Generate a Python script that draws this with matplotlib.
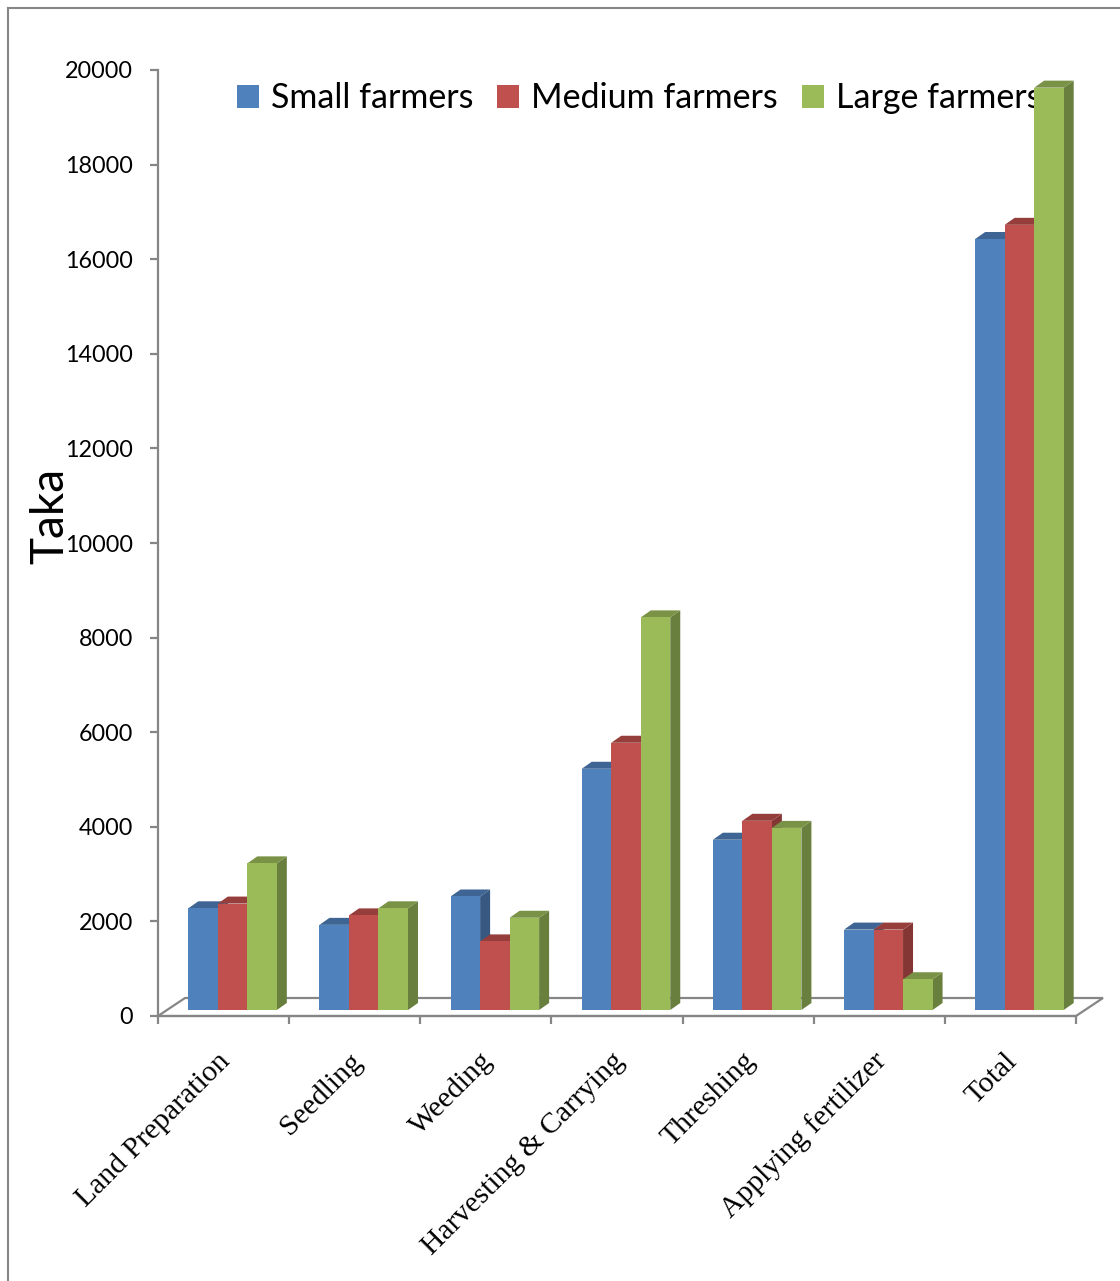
import numpy as np
import matplotlib.pyplot as plt
from matplotlib.patches import Patch, Polygon
from matplotlib.lines import Line2D
from matplotlib.colors import to_rgb

plt.rcParams["font.family"] = ["Lato", "DejaVu Sans"]

categories = [
    "Land Preparation",
    "Seedling",
    "Weeding",
    "Harvesting & Carrying",
    "Threshing",
    "Applying fertilizer",
    "Total",
]
series_names = ["Small farmers", "Medium farmers", "Large farmers"]
small = [2150, 1800, 2400, 5100, 3600, 1700, 16300]
medium = [2250, 2000, 1450, 5650, 4000, 1700, 16600]
large = [3100, 2150, 1950, 8300, 3850, 650, 19500]
colors = ["#4F81BD", "#C0504D", "#9BBB59"]
y_ticks = list(range(0, 20001, 2000))

AXIS_GRAY = "#868686"


def shade(color, k):
    return tuple(c * k for c in to_rgb(color))


fig = plt.figure(figsize=(11.2, 12.81), dpi=100)
ax = fig.add_axes([158 / 1120, 265 / 1281, 918 / 1120, 946 / 1281])
n = len(categories)
ax.set_xlim(0, n)
ax.set_ylim(0, 20000)

# pixel -> data unit factors (fixed figure size and dpi)
bb = ax.get_window_extent()
ux = n / bb.width
uy = 20000 / bb.height

# floor of the 3-D plot area
fdx, fdy = 27 * ux, 18 * uy
floor = Polygon([(0, 0), (n, 0), (n + fdx, fdy), (fdx, fdy)], closed=True,
                facecolor="white", edgecolor=AXIS_GRAY, lw=1.6,
                clip_on=False, zorder=1)
ax.add_patch(floor)

# bars: front face, right side, top
sx, sy = 9 * ux, 6 * uy      # shift of the bar row into the floor
ddx, ddy = 10 * ux, 7 * uy   # bar depth
width = 0.225
values = [small, medium, large]
for i in range(n):
    for j, vals in enumerate(values):
        h = vals[i]
        x0 = i + 0.5 + (j - 1.5) * width + sx
        x1 = x0 + width
        y0 = sy
        y1 = sy + h
        col = colors[j]
        z = 3 + i * 3 + j
        ax.add_patch(Polygon([(x1, y0), (x1 + ddx, y0 + ddy), (x1 + ddx, y1 + ddy), (x1, y1)],
                             closed=True, facecolor=shade(col, 0.68), edgecolor="none",
                             clip_on=False, zorder=z))
        ax.add_patch(Polygon([(x0, y1), (x1, y1), (x1 + ddx, y1 + ddy), (x0 + ddx, y1 + ddy)],
                             closed=True, facecolor=shade(col, 0.78), edgecolor="none",
                             clip_on=False, zorder=z))
        ax.add_patch(Polygon([(x0, y0), (x1, y0), (x1, y1), (x0, y1)],
                             closed=True, facecolor=col, edgecolor="none",
                             clip_on=False, zorder=z))

for side in ["top", "right"]:
    ax.spines[side].set_visible(False)
for side in ["left", "bottom"]:
    ax.spines[side].set_color(AXIS_GRAY)
    ax.spines[side].set_linewidth(1.6)
    ax.spines[side].set_zorder(2)

ax.set_yticks(y_ticks)
ax.set_yticklabels([str(v) for v in y_ticks])
ax.tick_params(axis="y", length=6, width=1.6, color=AXIS_GRAY, pad=12,
               labelsize=16.8)
ax.set_xticks(range(n + 1))
ax.set_xticklabels([])
ax.tick_params(axis="x", which="major", length=6, width=1.6, color=AXIS_GRAY)

for i, name in enumerate(categories):
    ax.annotate(name, xy=(i + 0.5, 0), xytext=(3, -41), textcoords="offset pixels",
                rotation=45, rotation_mode="anchor", ha="right", va="center",
                fontsize=21.3, family="Liberation Serif", annotation_clip=False)

ax.set_ylabel("Taka", fontsize=33)
ax.yaxis.set_label_coords(-87 / 918, (1016 - 516) / 946)

handles = [Patch(facecolor=c, edgecolor="none") for c in colors]
ax.legend(handles, series_names, loc="center", bbox_to_anchor=(0.524, 0.970),
          ncol=3, frameon=False, fontsize=24.5, handlelength=0.65, handleheight=0.65,
          handletextpad=0.35, columnspacing=0.7, borderpad=0)

# outer chart border
fig.add_artist(Line2D([8 / 1120, 8 / 1120], [0, 1 - 8 / 1281], color=AXIS_GRAY, lw=1.5))
fig.add_artist(Line2D([8 / 1120, 1], [1 - 8 / 1281, 1 - 8 / 1281], color=AXIS_GRAY, lw=1.5))

fig.savefig("out.png", dpi=100, facecolor="white")
